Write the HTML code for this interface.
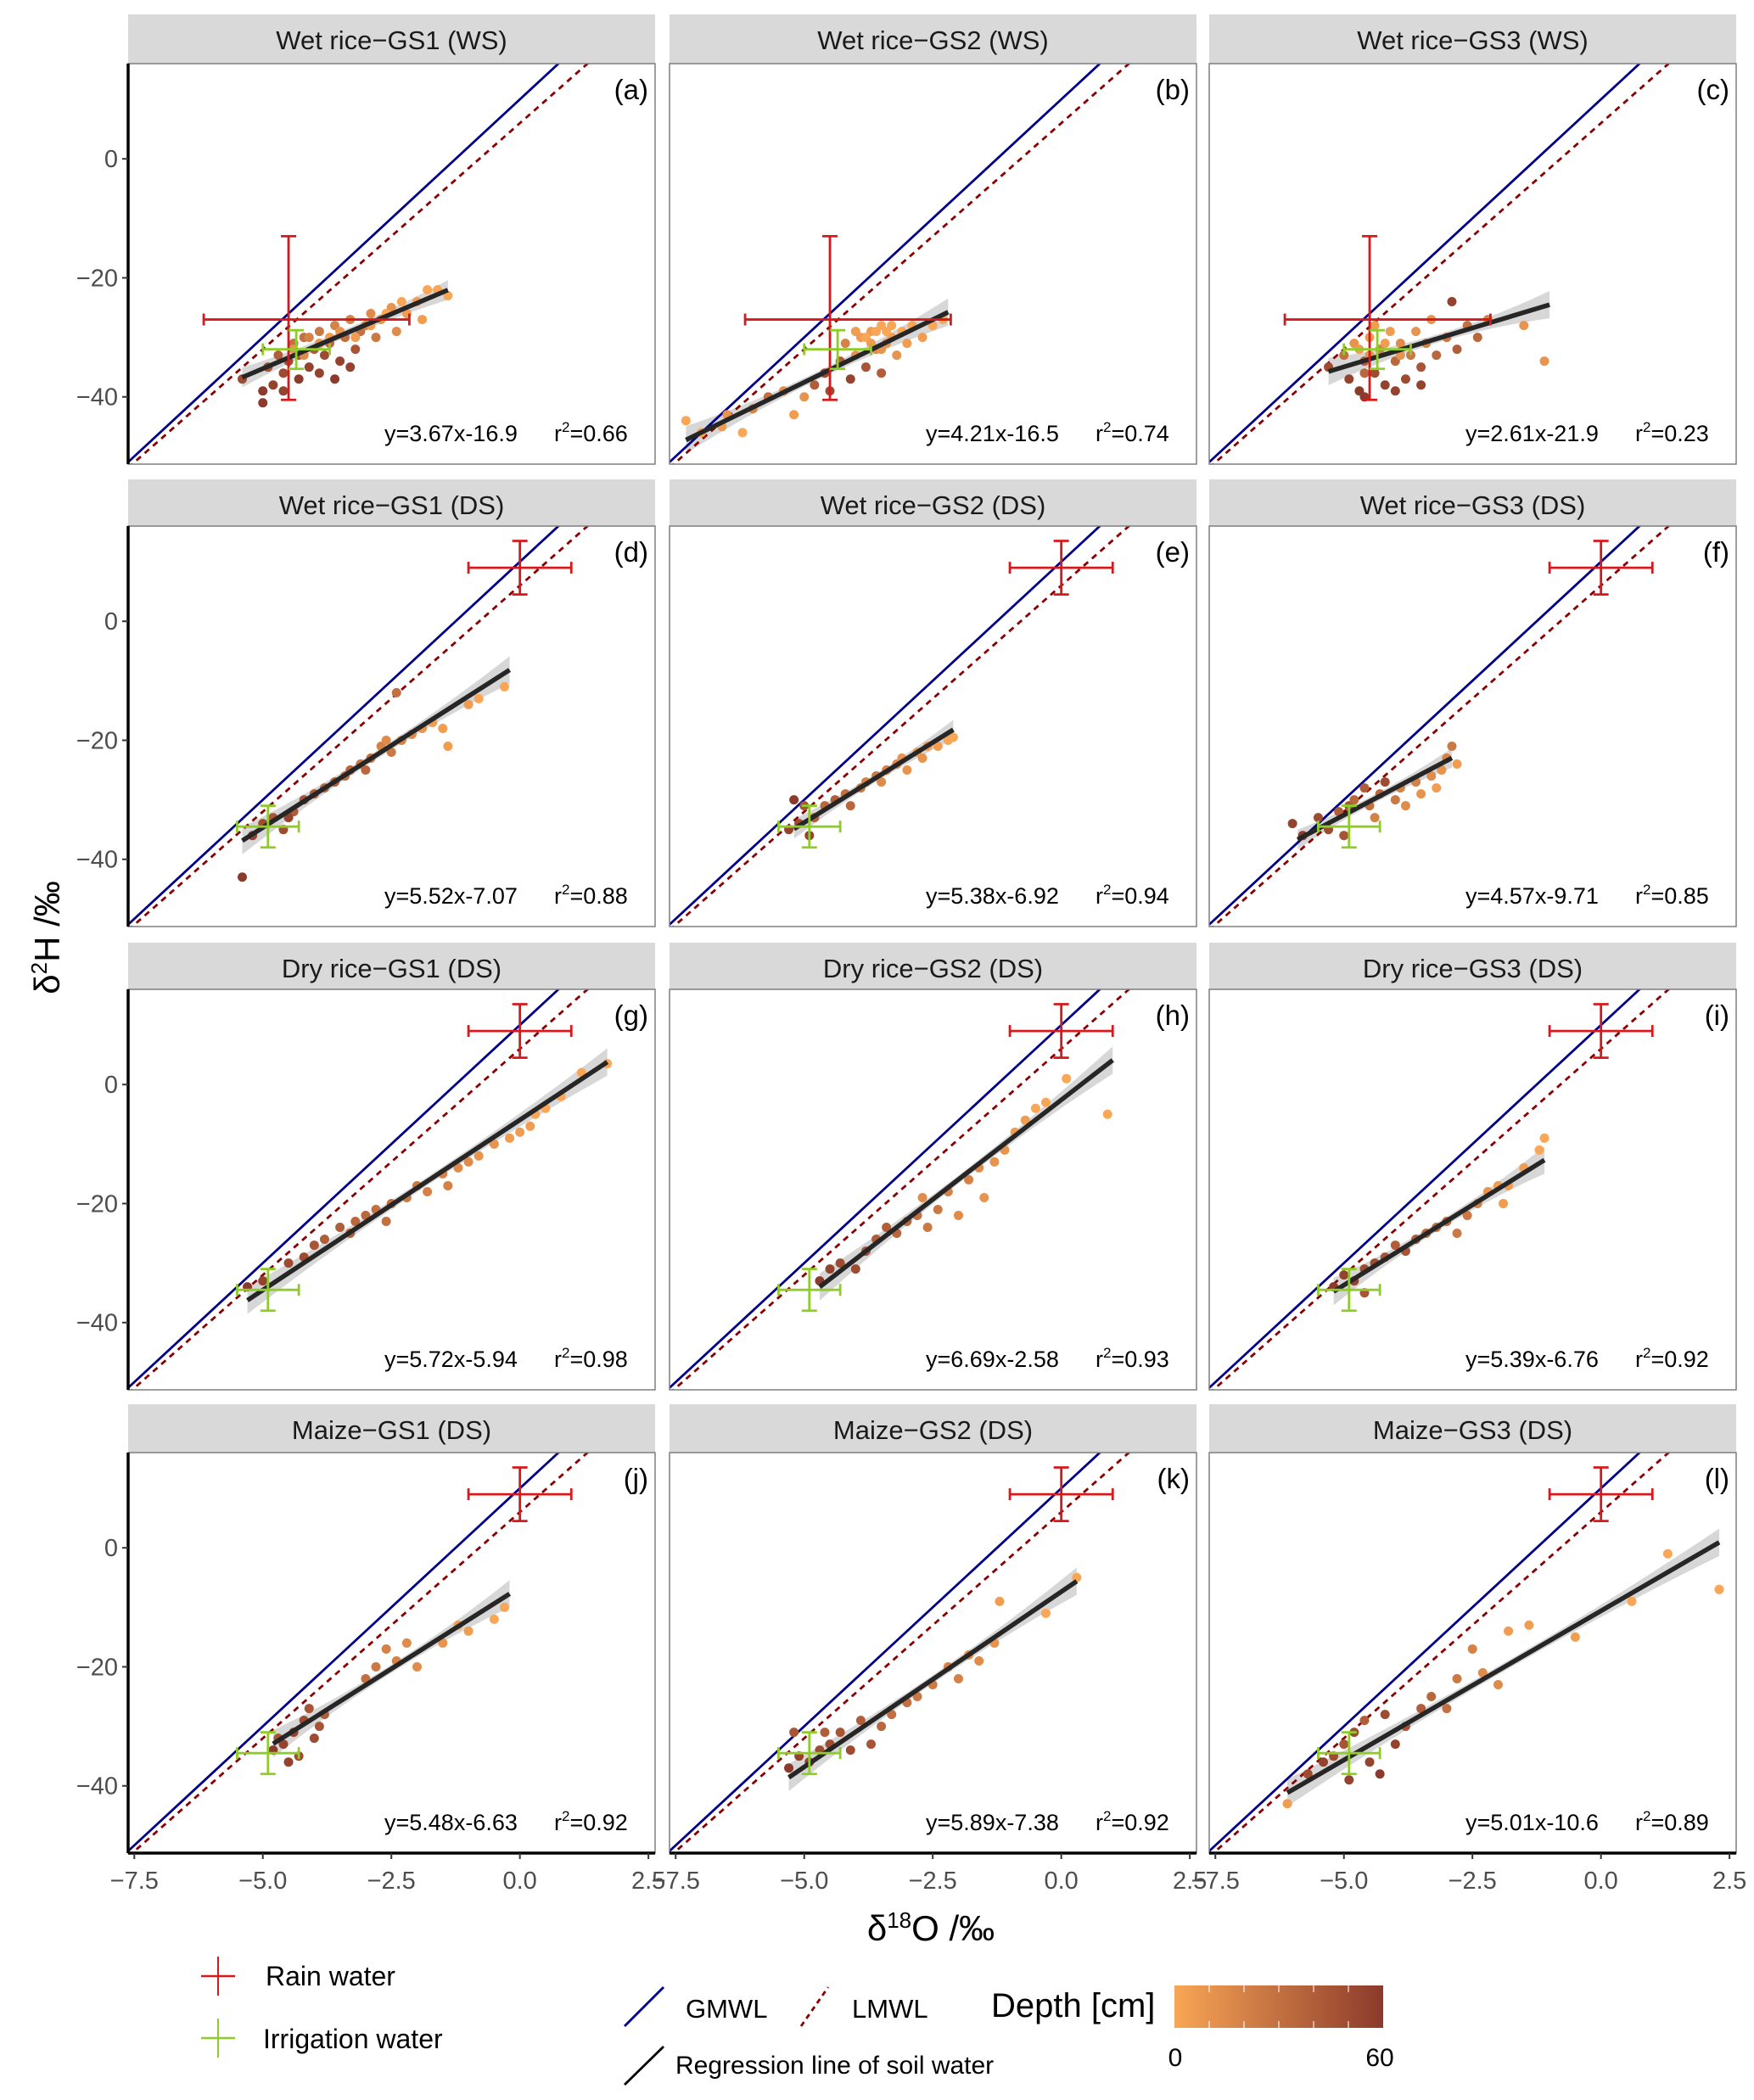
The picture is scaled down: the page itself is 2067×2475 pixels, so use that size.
<!DOCTYPE html>
<html><head><meta charset="utf-8"><style>
body{margin:0;background:#fff;}
svg{display:block;font-family:"Liberation Sans",sans-serif;}
</style></head><body>
<svg id="fig" width="2067" height="2475" viewBox="0 0 2067 2475" xmlns="http://www.w3.org/2000/svg"></svg>
<script>
const panelTitles=["Wet rice\u2212GS1 (WS)","Wet rice\u2212GS2 (WS)","Wet rice\u2212GS3 (WS)","Wet rice\u2212GS1 (DS)","Wet rice\u2212GS2 (DS)","Wet rice\u2212GS3 (DS)","Dry rice\u2212GS1 (DS)","Dry rice\u2212GS2 (DS)","Dry rice\u2212GS3 (DS)","Maize\u2212GS1 (DS)","Maize\u2212GS2 (DS)","Maize\u2212GS3 (DS)"];
const panelLetters=["(a)","(b)","(c)","(d)","(e)","(f)","(g)","(h)","(i)","(j)","(k)","(l)"];
const slopes=[3.67,4.21,2.61,5.52,5.38,4.57,5.72,6.69,5.39,5.48,5.89,5.01];
const intercepts=[-16.9,-16.5,-21.9,-7.07,-6.92,-9.71,-5.94,-2.58,-6.76,-6.63,-7.38,-10.6];
const r2=["0.66","0.74","0.23","0.88","0.94","0.85","0.98","0.93","0.92","0.92","0.92","0.89"];
const regXmin=[-5.4,-7.3,-5.3,-5.4,-5.2,-5.9,-5.3,-4.7,-5.2,-4.8,-5.3,-6.1];
const regXmax=[-1.4,-2.2,-1.0,-0.2,-2.1,-2.9,1.7,1.0,-1.1,-0.2,0.3,2.3];
const xTicks=[-7.5,-5.0,-2.5,0.0,2.5];
const yTicks=[0,-20,-40];
const gmwl=[8,10];
const lmwl=[7.6,6];
// rain/irrigation: [x, y, xerrLow, xerrHigh, yerrLow, yerrHigh]
const rainWS=[-4.5,-27,-6.15,-2.15,-40.5,-13];
const rainDS=[0,9,-1.0,1.0,4.5,13.5];
const irrWS=[-4.35,-32,-5.0,-3.7,-35.3,-28.8];
const irrDS=[-4.9,-34.5,-5.5,-4.3,-38,-31];
// points "x,y,depth;..."
const pts=[
"-5.4,-37,50;-5,-39,60;-5,-41,60;-4.8,-38,55;-4.6,-39,55;-4.9,-35,45;-4.7,-33,40;-4.5,-34,50;-4.4,-31,30;-4.3,-33,45;-4.2,-30,30;-4.1,-35,55;-4,-32,40;-3.9,-29,25;-3.8,-33,50;-3.7,-31,35;-3.6,-28,20;-3.5,-34,55;-3.4,-30,30;-3.3,-27,20;-3.2,-32,45;-3.1,-29,30;-3,-28,20;-2.9,-26,15;-2.8,-30,25;-2.7,-27,10;-2.5,-25,10;-2.4,-29,15;-2.2,-26,5;-2,-24,5;-1.9,-27,5;-1.8,-22,0;-1.6,-22,0;-1.4,-23,0;-4.6,-36,50;-4.3,-37,60;-3.9,-36,55;-3.6,-37,60;-4.1,-30,20;-3.3,-35,55;-4.4,-32,10;-4.2,-33,15;-3.9,-31,10;-3.7,-30,5;-3.5,-29,10;-3.2,-30,5;-2.9,-28,5;-2.6,-26,0;-2.3,-24,0",
"-7.3,-44,0;-7,-46,0;-6.6,-45,5;-6.5,-43,10;-6.2,-46,0;-6,-42,20;-5.7,-40,30;-5.4,-39,15;-5.2,-43,5;-5,-40,10;-4.8,-38,40;-4.6,-36,50;-4.5,-39,50;-4.3,-34,40;-4.2,-31,20;-4,-33,10;-3.9,-30,5;-3.8,-35,45;-3.7,-29,5;-3.6,-32,15;-3.5,-28,0;-3.4,-31,10;-3.3,-30,5;-3.2,-33,10;-3.1,-29,0;-3,-31,5;-2.9,-28,0;-2.7,-30,5;-2.5,-28,0;-2.3,-27,0;-3.5,-36,40;-4.1,-37,55;-3.8,-30,0;-3.6,-29,0;-3.4,-29,0;-3.3,-28,0;-3.7,-31,5;-3.5,-32,10;-4.0,-29,5",
"-5.3,-35,50;-5.0,-33,30;-4.9,-37,55;-4.8,-31,10;-4.7,-39,60;-4.6,-34,40;-4.5,-30,5;-4.4,-36,50;-4.3,-32,20;-4.2,-38,55;-4.1,-29,5;-4,-34,35;-3.9,-31,15;-3.8,-37,50;-3.7,-33,25;-3.6,-29,10;-3.5,-35,45;-3.4,-31,20;-3.3,-27,10;-3.2,-33,35;-3.0,-30,25;-2.9,-24,55;-2.8,-32,40;-2.6,-28,30;-2.4,-30,35;-2.2,-27,20;-1.5,-28,10;-1.1,-34,10;-4.6,-40,60;-4.0,-39,55;-3.5,-38,55;-4.4,-28,5;-4.7,-32,5;-4.5,-33,10;-4.2,-31,5;-3.9,-33,10;-4.6,-36,35",
"-5.4,-43,60;-5.2,-36,55;-5,-34,50;-4.8,-33,45;-4.6,-35,50;-4.4,-32,40;-4.2,-30,45;-4,-29,40;-3.8,-28,35;-3.6,-27,40;-3.4,-26,30;-3.3,-25,35;-3.1,-24,25;-2.9,-23,30;-2.7,-21,20;-2.6,-20,15;-2.5,-22,25;-2.3,-20,20;-2.1,-19,15;-1.9,-18,10;-1.7,-17,5;-1.5,-18,5;-1.4,-21,5;-1.0,-14,5;-0.8,-13,0;-0.3,-11,0;-2.4,-12,30;-3.0,-25,35;-4.5,-33,55",
"-5.3,-35,55;-5.1,-34,50;-5.0,-31,45;-4.8,-33,40;-4.6,-31,35;-4.4,-30,40;-4.2,-29,30;-4.1,-31,35;-3.9,-28,25;-3.8,-27,20;-3.6,-26,25;-3.5,-27,15;-3.4,-25,20;-3.2,-24,15;-3.1,-23,10;-3,-25,10;-2.8,-22,5;-2.7,-23,10;-2.6,-21,5;-2.4,-21,5;-2.2,-20,0;-2.1,-19.5,0;-5.2,-30,60;-4.9,-36,55",
"-6.0,-34,55;-5.8,-36,60;-5.5,-33,50;-5.3,-35,50;-5.1,-32,40;-4.9,-31,45;-4.8,-30,35;-4.6,-28,40;-4.5,-31,30;-4.3,-29,35;-4.2,-27,50;-4,-30,25;-3.9,-28,20;-3.8,-31,15;-3.6,-27,20;-3.5,-29,10;-3.3,-26,15;-3.2,-28,5;-3.1,-25,10;-3,-23,20;-2.9,-21,25;-2.8,-24,5;-4.4,-33,20;-5.0,-36,45",
"-5.3,-34,60;-5,-33,55;-4.5,-30,50;-4.2,-29,50;-4,-27,45;-3.8,-26,40;-3.5,-24,40;-3.2,-23,35;-3,-22,35;-2.8,-21,30;-2.5,-20,30;-2.2,-19,25;-2,-17,25;-1.8,-18,20;-1.5,-15,20;-1.2,-14,15;-1,-13,15;-0.8,-12,10;-0.5,-10,10;-0.2,-9,5;0,-8,5;0.3,-5,0;0.5,-4,0;0.8,-2,0;1.2,2,0;1.7,3.5,0;-3.3,-25,40;-2.6,-23,30;-1.4,-17,20;0.2,-7,5",
"-4.7,-33,60;-4.5,-31,55;-4.3,-30,50;-4,-31,50;-3.8,-28,45;-3.6,-26,40;-3.4,-24,40;-3.2,-25,35;-3,-23,35;-2.8,-22,30;-2.6,-24,25;-2.4,-21,25;-2.2,-18,20;-2,-22,15;-1.8,-16,20;-1.6,-14,15;-1.3,-13,10;-1.1,-11,10;-0.9,-8,5;-0.7,-6,5;-0.5,-4,0;-0.3,-3,0;0.1,1,0;0.9,-5,0;-1.5,-19,10;-2.7,-19,15",
"-5.2,-34,60;-5,-32,55;-4.8,-33,55;-4.6,-31,50;-4.4,-30,50;-4.2,-29,45;-4,-27,40;-3.8,-28,45;-3.6,-26,40;-3.4,-25,35;-3.2,-24,30;-3,-23,35;-2.8,-25,25;-2.6,-22,25;-2.4,-20,20;-2.2,-18,10;-2,-17,5;-1.9,-20,5;-1.8,-17,5;-1.2,-11,0;-1.1,-9,0;-1.5,-14,5;-4.6,-35,45",
"-4.8,-34,60;-4.6,-33,55;-4.4,-31,55;-4.3,-35,50;-4.2,-29,50;-4.1,-27,45;-4,-32,50;-3.9,-30,45;-4.5,-36,55;-3.0,-22,30;-2.8,-20,25;-2.6,-17,20;-2.4,-19,20;-2.2,-16,15;-2,-20,15;-1.5,-16,10;-1.2,-13,5;-1,-14,5;-0.5,-12,0;-0.3,-10,0;-4.7,-32,45;-3.8,-28,40",
"-5.3,-37,60;-5.1,-35,55;-4.9,-36,55;-4.7,-34,50;-4.5,-33,50;-4.3,-31,45;-4.1,-34,50;-3.9,-29,40;-3.7,-33,45;-3.5,-30,35;-3.3,-28,30;-3.0,-26,30;-2.8,-25,25;-2.5,-23,25;-2.2,-20,20;-2,-22,20;-1.8,-18,15;-1.6,-19,15;-1.3,-16,10;-1.2,-9,5;-0.3,-11,0;0.3,-5,0;-5.2,-31,45;-4.6,-31,40",
"-6.1,-43,5;-5.7,-38,50;-5.4,-36,55;-5.2,-35,50;-5,-33,45;-4.8,-31,50;-4.6,-29,40;-4.5,-36,55;-4.3,-38,60;-4.2,-28,50;-4,-33,55;-3.8,-30,45;-3.5,-27,40;-3.3,-25,35;-3.0,-27,30;-2.8,-22,25;-2.5,-17,20;-2.3,-21,15;-2.0,-23,15;-1.8,-14,5;-1.4,-13,5;-0.5,-15,5;0.6,-9,0;1.3,-1,0;2.3,-7,0;-4.9,-39,55"
];

const NS="http://www.w3.org/2000/svg";
const svg=document.getElementById('fig');
function mk(tag,attrs,parent){const e=document.createElementNS(NS,tag);for(const k in attrs)e.setAttribute(k,attrs[k]);(parent||svg).appendChild(e);return e;}
const colL=[151,789,1425], colW=621;
const stripT=[17,565,1111,1655], plotT=[75,620,1166,1712], plotH=472;
const XMIN=-7.62,XMAX=2.63,YMIN=-51.3,YMAX=16.0;
function depthColor(d){const t=Math.max(0,Math.min(1,d/60));const a=[249,166,86],b=[139,58,43];return `rgb(${Math.round(a[0]+(b[0]-a[0])*t)},${Math.round(a[1]+(b[1]-a[1])*t)},${Math.round(a[2]+(b[2]-a[2])*t)})`;}

for(let p=0;p<12;p++){
  const r=Math.floor(p/3),c=p%3;
  const L=colL[c],T=plotT[r];
  const sx=v=>L+(v-XMIN)/(XMAX-XMIN)*colW;
  const sy=v=>T+(YMAX-v)/(YMAX-YMIN)*plotH;
  const g=mk('g',{});
  
  
  const strip=mk('rect',{x:L,y:stripT[r],width:colW,height:plotT[r]-stripT[r],fill:'#d9d9d9'},g);
  
  
  const st=mk('text',{x:L+colW/2,y:stripT[r]+41,'font-size':31,'text-anchor':'middle',fill:'#1a1a1a'},g);
  st.textContent=panelTitles[p];
  
  
  const cid='clip'+p;
  const cp=mk('clipPath',{id:cid},g);mk('rect',{x:L,y:T,width:colW,height:plotH},cp);
  const inner=mk('g',{'clip-path':`url(#${cid})`},g);
  const xs0=regXmin[p],xs1=regXmax[p],xm=(xs0+xs1)/2,hw=(xs1-xs0)/2;
  let up=[],dn=[];
  for(let i=0;i<=20;i++){const x=xs0+(xs1-xs0)*i/20;const y=slopes[p]*x+intercepts[p];const se=0.7+1.6*Math.pow((x-xm)/hw,2)*(hw>2?1:0.6);up.push(sx(x)+','+sy(y+se));dn.unshift(sx(x)+','+sy(y-se));}
  const rib=mk('polygon',{points:up.concat(dn).join(' '),fill:'#bdbdbd','fill-opacity':0.6},inner);
  
  
  const gm=mk('line',{x1:sx(XMIN),y1:sy(gmwl[0]*XMIN+gmwl[1]),x2:sx(XMAX),y2:sy(gmwl[0]*XMAX+gmwl[1]),stroke:'#00008b','stroke-width':2.8},inner);
  
  
  const lm=mk('line',{x1:sx(XMIN),y1:sy(lmwl[0]*XMIN+lmwl[1]),x2:sx(XMAX),y2:sy(lmwl[0]*XMAX+lmwl[1]),stroke:'#8b0000','stroke-width':2.8,'stroke-dasharray':'7,6'},inner);
  
  
  pts[p].split(';').forEach(s=>{const [x,y,d]=s.split(',').map(Number);
    const ci=mk('circle',{cx:sx(x),cy:sy(y),r:5.5,fill:depthColor(d)},inner);
    
    });
  const rl=mk('line',{x1:sx(xs0),y1:sy(slopes[p]*xs0+intercepts[p]),x2:sx(xs1),y2:sy(slopes[p]*xs1+intercepts[p]),stroke:'#262626','stroke-width':5.5},inner);
  
  
  function cross(d,col,name){
    const cg=mk('g',{stroke:col,'stroke-width':2.8},inner);
    
    
    mk('line',{x1:sx(d[2]),y1:sy(d[1]),x2:sx(d[3]),y2:sy(d[1])},cg);
    mk('line',{x1:sx(d[0]),y1:sy(d[4]),x2:sx(d[0]),y2:sy(d[5])},cg);
    [d[4],d[5]].forEach(v=>mk('line',{x1:sx(d[0])-9,y1:sy(v),x2:sx(d[0])+9,y2:sy(v)},cg));
    [d[2],d[3]].forEach(v=>mk('line',{x1:sx(v),y1:sy(d[1])-7,x2:sx(v),y2:sy(d[1])+7},cg));
  }
  const ws=r===0;
  cross(ws?rainWS:rainDS,'#d7191c','rain-water-cross');
  cross(ws?irrWS:irrDS,'#8fcc2a','irrigation-water-cross');
  const bd=mk('rect',{x:L,y:T,width:colW,height:plotH,fill:'none',stroke:'#7f7f7f','stroke-width':1.5},g);
  
  
  const lt=mk('text',{x:L+colW-8,y:T+42,'font-size':33,'text-anchor':'end',fill:'#000'},g);
  lt.textContent=panelLetters[p];
  
  
  const eq=mk('text',{x:L+302,y:T+plotH-27,'font-size':27,fill:'#000'},g);
  eq.textContent='y='+slopes[p].toFixed(2)+'x'+intercepts[p];
  
  
  const rt=mk('text',{x:L+502,y:T+plotH-27,'font-size':27,fill:'#000'},g);
  rt.innerHTML='r<tspan dy="-11" font-size="17">2</tspan><tspan dy="11">='+r2[p]+'</tspan>';
  
  
  if(c===0){
    const ya=mk('line',{x1:L,y1:T,x2:L,y2:T+plotH,stroke:'#000','stroke-width':3.5},g);
    
    
    yTicks.forEach(v=>{
      mk('line',{x1:L-7,y1:sy(v),x2:L,y2:sy(v),stroke:'#333','stroke-width':2},g);
      const t=mk('text',{x:L-12,y:sy(v)+10,'font-size':29,'text-anchor':'end',fill:'#4d4d4d'},g);
      t.textContent=v===0?'0':'\u2212'+Math.abs(v);
      
      
    });
  }
  if(r===3){
    const xa=mk('line',{x1:L,y1:T+plotH,x2:L+colW,y2:T+plotH,stroke:'#000','stroke-width':3.5},g);
    
    
    xTicks.forEach(v=>{
      mk('line',{x1:sx(v),y1:T+plotH,x2:sx(v),y2:T+plotH+7,stroke:'#333','stroke-width':2},g);
      const t=mk('text',{x:sx(v),y:T+plotH+42,'font-size':29,'text-anchor':'middle',fill:'#4d4d4d'},g);
      t.textContent=(v<0?'\u2212':'')+Math.abs(v).toFixed(1);
      
      
    });
  }
}
</script>
<svg width="2067" height="2475" style="position:absolute;left:0;top:0" xmlns="http://www.w3.org/2000/svg">
<defs><linearGradient id="dg" x1="0" x2="1"><stop offset="0" stop-color="#f9a656"/><stop offset="1" stop-color="#8b3a2b"/></linearGradient></defs>
<text x="0" y="0" transform="translate(70,1105) rotate(-90)" font-family="Liberation Sans" font-size="42" text-anchor="middle">δ<tspan dy="-15" font-size="26">2</tspan><tspan dy="15">H /‰</tspan></text>
<text x="1097" y="2287" font-family="Liberation Sans" font-size="42" text-anchor="middle">δ<tspan dy="-15" font-size="26">18</tspan><tspan dy="15">O /‰</tspan></text>
<g>
<line x1="237" y1="2329" x2="277" y2="2329" stroke="#d7191c" stroke-width="2.5"/><line x1="257" y1="2306" x2="257" y2="2352" stroke="#d7191c" stroke-width="2"/>
<text x="313" y="2340" font-family="Liberation Sans" font-size="32">Rain water</text></g>
<g>
<line x1="237" y1="2402" x2="277" y2="2402" stroke="#8fcc2a" stroke-width="2.5"/><line x1="257" y1="2379" x2="257" y2="2425" stroke="#8fcc2a" stroke-width="2"/>
<text x="310" y="2414" font-family="Liberation Sans" font-size="32">Irrigation water</text></g>
<g><line x1="736" y1="2388" x2="782" y2="2342" stroke="#00008b" stroke-width="2.8"/>
<text x="808" y="2378" font-family="Liberation Sans" font-size="31">GMWL</text></g>
<g><line x1="944" y1="2388" x2="976" y2="2342" stroke="#8b0000" stroke-width="2.8" stroke-dasharray="6,5"/>
<text x="1004" y="2378" font-family="Liberation Sans" font-size="31">LMWL</text></g>
<g><line x1="736" y1="2457" x2="782" y2="2412" stroke="#000" stroke-width="2.8"/>
<text x="796" y="2444" font-family="Liberation Sans" font-size="30">Regression line of soil water</text></g>
<text x="1168" y="2377" font-family="Liberation Sans" font-size="40">Depth [cm]</text>
<rect x="1384" y="2340" width="246" height="50" fill="url(#dg)"/>
<g stroke="#fff" stroke-width="1.5" opacity="0.7"><line x1="1425" y1="2340" x2="1425" y2="2348"/><line x1="1466" y1="2340" x2="1466" y2="2348"/><line x1="1507" y1="2340" x2="1507" y2="2348"/><line x1="1548" y1="2340" x2="1548" y2="2348"/><line x1="1589" y1="2340" x2="1589" y2="2348"/><line x1="1425" y1="2382" x2="1425" y2="2390"/><line x1="1466" y1="2382" x2="1466" y2="2390"/><line x1="1507" y1="2382" x2="1507" y2="2390"/><line x1="1548" y1="2382" x2="1548" y2="2390"/><line x1="1589" y1="2382" x2="1589" y2="2390"/></g>
<text x="1385" y="2435" font-family="Liberation Sans" font-size="30" text-anchor="middle">0</text>
<text x="1626" y="2435" font-family="Liberation Sans" font-size="30" text-anchor="middle">60</text>
</svg>
</body></html>
